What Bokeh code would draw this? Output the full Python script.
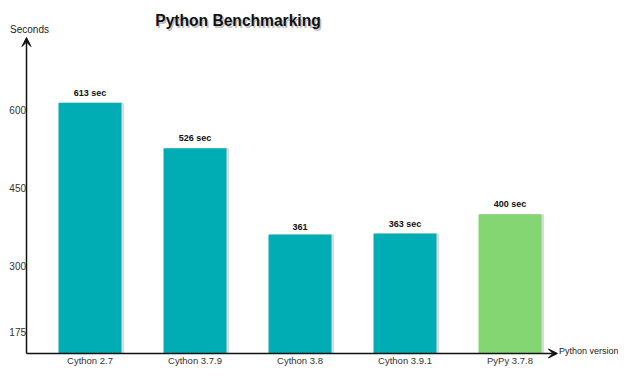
from bokeh.plotting import figure
from bokeh.models import Range1d, Arrow, VeeHead, Label, ColumnDataSource
from bokeh.transform import factor_cmap, dodge
from bokeh.core.properties import value
from bokeh.embed import file_html
from bokeh.resources import INLINE

versions = ["Cython 2.7", "Cython 3.7.9", "Cython 3.8", "Cython 3.9.1", "PyPy 3.7.8"]
seconds = [613, 526, 361, 363, 400]
value_labels = ["613 sec", "526 sec", "361", "363 sec", "400 sec"]
y_ticks = [175, 300, 450, 600]

positions = list(range(len(versions)))
impl = [v.split(" ")[0] for v in versions]

src = ColumnDataSource(dict(x=positions, version=versions, seconds=seconds,
                            label=value_labels, impl=impl))
tick_src = ColumnDataSource(dict(y=y_ticks, text=[str(t) for t in y_ticks]))

TEAL = "#00adb5"
GREEN = "#83d672"
FONT = "Liberation Sans"

# axis origin / arrow ends (data units)
x0, x1 = -0.6048, 4.452
y0, y1 = 133.6, 738

p = figure(width=618, height=366,
           x_range=Range1d(-0.8524, 5.0333), y_range=Range1d(108.7, 808.8),
           x_axis_location=None, y_axis_location=None,
           output_backend="svg", toolbar_location=None, min_border=0)
p.outline_line_color = None
p.grid.visible = False
p.background_fill_color = "white"
p.border_fill_color = "white"

# subtle bar shadows
p.vbar(x=dodge("x", 0.025), top="seconds", bottom=y0, width=0.6, source=src,
       fill_color="#888888", fill_alpha=0.3, line_color=None)
p.vbar(x="x", top="seconds", bottom=y0, width=0.6, source=src,
       fill_color=factor_cmap("impl", palette=[TEAL, GREEN], factors=["Cython", "PyPy"]),
       line_color=None)

# value labels
p.text(x="x", y="seconds", text="label", source=src, y_offset=-5,
       text_align="center", text_baseline="bottom",
       text_font=value(FONT), text_font_size="9px", text_font_style="bold",
       text_color="#111111")

# category labels (x axis)
p.text(x="x", y=y0, text="version", source=src, y_offset=2,
       text_align="center", text_baseline="top",
       text_font=value(FONT), text_font_size="9.5px", text_color="#333333")

# y tick labels
p.text(x=x0, y="y", text="text", source=tick_src, x_offset=-0.5,
       text_align="right", text_baseline="middle",
       text_font=value(FONT), text_font_size="10px", text_color="#333333")

# axis arrows
p.add_layout(Arrow(x_start=x0, y_start=y0, x_end=x0, y_end=y1,
                   line_color="#111111", line_width=1.5,
                   end=VeeHead(size=9, fill_color="#111111", line_color="#111111")))
p.add_layout(Arrow(x_start=x0, y_start=y0, x_end=x1, y_end=y0,
                   line_color="#111111", line_width=1.5,
                   end=VeeHead(size=9, fill_color="#111111", line_color="#111111")))

# texts
p.add_layout(Label(x=1.4095, y=770.5, text="Python Benchmarking", x_offset=1.5, y_offset=-1.5,
                   text_align="center", text_baseline="middle", text_font=FONT,
                   text_font_size="15.6px", text_font_style="bold",
                   text_color="#777777", text_alpha=0.45))
p.add_layout(Label(x=1.4095, y=770.5, text="Python Benchmarking",
                   text_align="center", text_baseline="middle", text_font=FONT,
                   text_font_size="15.6px", text_font_style="bold", text_color="#111111"))
p.add_layout(Label(x=-0.576, y=753.3, text="Seconds", text_align="center",
                   text_baseline="middle", text_font=FONT, text_font_size="10px",
                   text_color="#222222"))
p.add_layout(Label(x=x1, y=y0, x_offset=1.5, y_offset=2, text="Python version",
                   text_align="left", text_baseline="middle", text_font=FONT,
                   text_font_size="9px", text_color="#222222"))

open("out.html", "w").write(file_html(p, INLINE))
